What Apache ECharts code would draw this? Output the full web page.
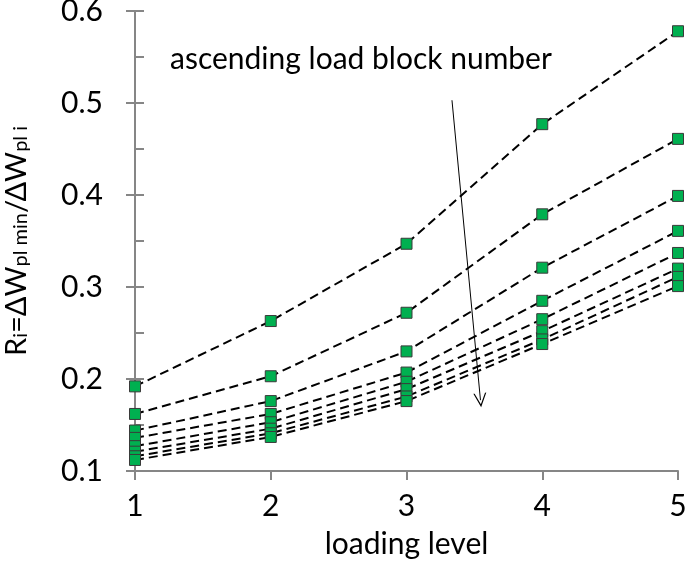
<!DOCTYPE html>
<html>
<head>
<meta charset="utf-8">
<script src="https://cdn.jsdelivr.net/npm/echarts@6/dist/echarts.min.js"></script>
<style>
html,body{margin:0;padding:0;background:#fff;}
#c{width:685px;height:567px;}
</style>
</head>
<body>
<div id="c"></div>
<script>
// loading levels (x)
var levels = [1, 2, 3, 4, 5];
// R_i for each load block (top = first block, bottom = last block)
var block1 = [0.192, 0.263, 0.347, 0.477, 0.578];
var block2 = [0.162, 0.203, 0.272, 0.379, 0.461];
var block3 = [0.144, 0.176, 0.230, 0.321, 0.399];
var block4 = [0.136, 0.162, 0.207, 0.285, 0.361];
var block5 = [0.127, 0.153, 0.197, 0.265, 0.337];
var block6 = [0.121, 0.146, 0.189, 0.252, 0.320];
var block7 = [0.116, 0.141, 0.181, 0.243, 0.311];
var block8 = [0.112, 0.137, 0.176, 0.238, 0.301];
var blocks = [block1, block2, block3, block4, block5, block6, block7, block8];
// y-axis ticks
var yMin = 0.1, yMax = 0.6, yStep = 0.1;
var xMin = 1, xMax = 5, xStep = 1;
// annotation arrow (data coordinates)
var arrowStart = [3.335, 0.503];
var arrowEnd = [3.545, 0.177];
var annotationText = 'ascending load block number';

var FONT = 'Lato';
var axisColor = '#868686';

var chart = echarts.init(document.getElementById('c'), null, {renderer: 'canvas'});

var series = blocks.map(function (b, i) {
  var s = {
    type: 'line',
    data: levels.map(function (x, j) { return [x, b[j]]; }),
    symbol: 'rect',
    symbolSize: 11,
    showSymbol: true,
    lineStyle: {color: '#000', width: 2, type: [9, 5]},
    itemStyle: {color: '#00B050', borderColor: '#3a3a3a', borderWidth: 1},
    emphasis: {disabled: true},
    animation: false,
    z: 3
  };
  if (i === 0) {
    s.markLine = {
      silent: true,
      symbol: ['none', 'path://M0,10 L5,0 L10,10 L9,10 L5,2 L1,10 Z'],
      symbolSize: [13, 14],
      lineStyle: {color: '#000', width: 1, type: 'solid'},
      label: {show: false},
      animation: false,
      data: [[{coord: arrowStart}, {coord: arrowEnd}]]
    };
  }
  return s;
});

var option = {
  backgroundColor: '#fff',
  animation: false,
  grid: {left: 135, right: 7, top: 11, bottom: 96, containLabel: false, outerBoundsMode: 'none'},
  xAxis: {
    type: 'value', min: xMin, max: xMax, interval: xStep,
    name: 'loading level', nameLocation: 'middle', nameGap: 58,
    nameTextStyle: {fontFamily: FONT, fontSize: 30, color: '#000'},
    axisLine: {show: true, lineStyle: {color: axisColor, width: 2}},
    axisTick: {show: true, inside: false, length: 9, lineStyle: {color: axisColor, width: 2}},
    axisLabel: {fontFamily: FONT, fontSize: 30, color: '#000', margin: 20},
    splitLine: {show: false}
  },
  yAxis: [{
    type: 'value', min: yMin, max: yMax, interval: yStep, position: 'left',
    name: '{n|R}{s|i}{n|=ΔW}{s|pl min}{n|/ΔW}{s|pl i}',
    nameLocation: 'middle', nameGap: 104, nameRotate: 90,
    nameTextStyle: {
      rich: {
        n: {fontFamily: FONT, fontSize: 29, color: '#000', lineHeight: 34, verticalAlign: 'bottom'},
        s: {fontFamily: FONT, fontSize: 20, color: '#000', lineHeight: 20, verticalAlign: 'bottom', padding: [11, 0, 0, 0]}
      }
    },
    axisLine: {show: true, lineStyle: {color: axisColor, width: 2}},
    axisTick: {show: true, inside: true, length: 9, lineStyle: {color: axisColor, width: 2}},
    minorTick: {show: true, splitNumber: 2, length: 9, lineStyle: {color: axisColor, width: 2}},
    axisLabel: {fontFamily: FONT, fontSize: 30, color: '#000', margin: 32,
      formatter: function (v) { return v.toFixed(1); }},
    splitLine: {show: false}
  }, {
    type: 'value', min: yMin, max: yMax, interval: yStep, position: 'left',
    axisLine: {show: true, lineStyle: {color: axisColor, width: 2}},
    axisTick: {show: true, inside: false, length: 9, lineStyle: {color: axisColor, width: 2}},
    axisLabel: {show: false},
    splitLine: {show: false}
  }],
  series: series,
  graphic: [{
    type: 'text', left: 170, top: 44,
    style: {text: annotationText, fontFamily: FONT, fontSize: 30, fill: '#000'}
  }]
};
chart.setOption(option);
</script>
</body>
</html>
